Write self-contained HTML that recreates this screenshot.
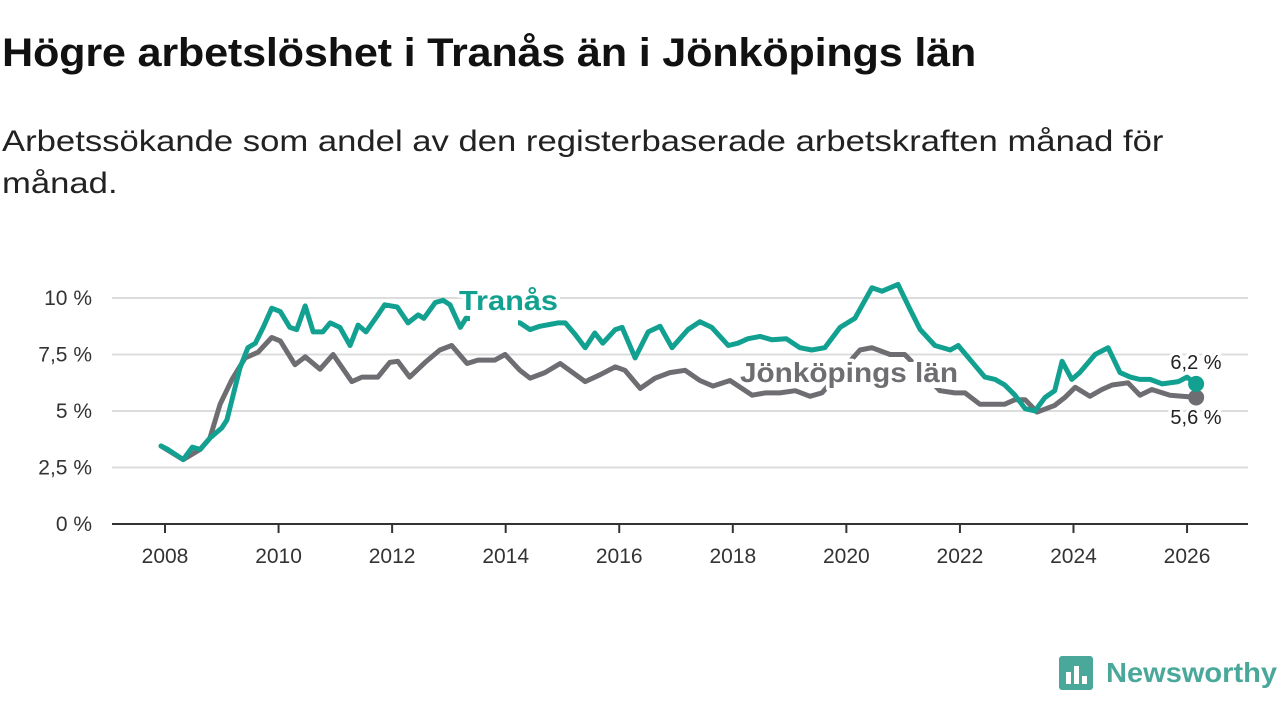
<!DOCTYPE html>
<html><head><meta charset="utf-8">
<style>
body{margin:0;background:#fff;font-family:"Liberation Sans",sans-serif;}
#wrap{position:relative;width:1280px;height:720px;overflow:hidden;}
h1{position:absolute;left:2px;top:31px;margin:0;font-size:40px;font-weight:bold;color:#111;letter-spacing:-0.2px;transform:scaleX(1.08);transform-origin:0 0;white-space:nowrap;}
p.sub{position:absolute;left:2px;top:121px;margin:0;font-size:30px;line-height:42px;color:#222;transform:scaleX(1.155);transform-origin:0 0;white-space:nowrap;}
svg{position:absolute;left:0;top:0;}
</style></head><body>
<div id="wrap">
<h1>Högre arbetslöshet i Tranås än i Jönköpings län</h1>
<p class="sub">Arbetssökande som andel av den registerbaserade arbetskraften månad för<br>månad.</p>
<svg id="chart" width="1280" height="720"></svg>
</div>
<script>
const yTicks=[0,2.5,5,7.5,10];
const yTickLabels=["0 %","2,5 %","5 %","7,5 %","10 %"];
const xTicks=[2008,2010,2012,2014,2016,2018,2020,2022,2024,2026];
const tranasX=[2007.93,2008.05,2008.32,2008.48,2008.62,2008.79,2009.00,2009.09,2009.18,2009.32,2009.46,2009.59,2009.73,2009.88,2010.03,2010.20,2010.32,2010.47,2010.61,2010.78,2010.91,2011.08,2011.26,2011.40,2011.54,2011.75,2011.87,2012.09,2012.28,2012.46,2012.56,2012.76,2012.90,2013.02,2013.20,2013.30,2014.25,2014.43,2014.60,2014.82,2014.92,2015.05,2015.22,2015.40,2015.57,2015.71,2015.93,2016.05,2016.28,2016.51,2016.72,2016.93,2017.21,2017.42,2017.63,2017.92,2018.09,2018.27,2018.48,2018.69,2018.94,2019.18,2019.39,2019.62,2019.89,2020.15,2020.45,2020.63,2020.91,2021.12,2021.30,2021.56,2021.83,2021.97,2022.27,2022.44,2022.62,2022.79,2022.97,2023.15,2023.32,2023.50,2023.67,2023.80,2023.97,2024.11,2024.38,2024.61,2024.82,2025.00,2025.17,2025.35,2025.56,2025.85,2026.00,2026.16];
const tranasY=[3.45,3.3,2.85,3.4,3.3,3.8,4.25,4.6,5.5,6.9,7.8,8.0,8.7,9.55,9.4,8.7,8.6,9.65,8.5,8.5,8.9,8.7,7.9,8.8,8.5,9.25,9.7,9.6,8.9,9.25,9.1,9.8,9.9,9.7,8.7,9.1,8.9,8.6,8.75,8.85,8.9,8.9,8.4,7.8,8.45,8.0,8.6,8.7,7.35,8.5,8.75,7.8,8.6,8.95,8.7,7.9,8.0,8.2,8.3,8.15,8.2,7.8,7.7,7.8,8.7,9.1,10.45,10.3,10.6,9.5,8.6,7.9,7.7,7.9,7.0,6.5,6.4,6.15,5.7,5.1,5.0,5.6,5.9,7.2,6.4,6.7,7.5,7.8,6.7,6.5,6.4,6.4,6.2,6.3,6.5,6.2];
const jkpX=[2007.93,2008.32,2008.62,2008.79,2008.97,2009.18,2009.41,2009.64,2009.88,2010.03,2010.29,2010.47,2010.73,2010.96,2011.29,2011.47,2011.75,2011.96,2012.10,2012.31,2012.58,2012.84,2013.05,2013.32,2013.51,2013.81,2013.99,2014.25,2014.43,2014.69,2014.96,2015.40,2015.66,2015.93,2016.10,2016.37,2016.63,2016.89,2017.16,2017.42,2017.65,2017.95,2018.34,2018.57,2018.83,2019.10,2019.36,2019.57,2020.24,2020.45,2020.77,2021.03,2021.65,2021.91,2022.09,2022.35,2022.79,2022.97,2023.15,2023.36,2023.67,2023.85,2024.03,2024.29,2024.50,2024.68,2024.96,2025.17,2025.38,2025.70,2026.16];
const jkpY=[3.45,2.85,3.3,3.8,5.3,6.4,7.35,7.6,8.25,8.1,7.05,7.4,6.85,7.5,6.3,6.5,6.5,7.15,7.2,6.5,7.15,7.7,7.9,7.1,7.25,7.25,7.5,6.8,6.45,6.7,7.1,6.3,6.6,6.95,6.8,6.0,6.45,6.7,6.8,6.35,6.1,6.35,5.7,5.8,5.8,5.9,5.65,5.8,7.7,7.8,7.5,7.5,5.9,5.8,5.8,5.3,5.3,5.5,5.5,4.95,5.25,5.6,6.05,5.65,5.95,6.15,6.25,5.7,5.95,5.7,5.6];
const svg=document.getElementById('chart');
const NS='http://www.w3.org/2000/svg';
const X=y=>165+(y-2008)*56.78;
const Y=v=>524-v*22.6;
function mk(tag,attrs,parent){const e=document.createElementNS(NS,tag);for(const k in attrs)e.setAttribute(k,attrs[k]);(parent||svg).appendChild(e);return e;}
yTicks.forEach((t,i)=>{
  if(t>0){const g=mk('line',{x1:112,x2:1248,y1:Y(t),y2:Y(t),stroke:'#dcdcdc','stroke-width':2});
  
  }
  const l=mk('text',{x:92,y:Y(t)+7,'text-anchor':'end','font-size':21,fill:'#333'});
  l.textContent=yTickLabels[i];
  
  
});
const ax=mk('line',{x1:112,x2:1248,y1:Y(0),y2:Y(0),stroke:'#333','stroke-width':2});


xTicks.forEach(t=>{
  const tk=mk('line',{x1:X(t),x2:X(t),y1:Y(0),y2:Y(0)+9,stroke:'#333','stroke-width':2});
  
  
  const l=mk('text',{x:X(t),y:563,'text-anchor':'middle','font-size':21,fill:'#333'});
  l.textContent=t;
  
  
});
function line(xs,ys,color,name){
  const d=xs.map((x,i)=>(i?'L':'M')+X(x).toFixed(1)+','+Y(ys[i]).toFixed(1)).join('');
  const p=mk('path',{d:d,fill:'none',stroke:color,'stroke-width':5,'stroke-linejoin':'round','stroke-linecap':'round'});
  
  
  const c=mk('circle',{cx:X(xs[xs.length-1]),cy:Y(ys[ys.length-1]),r:8,fill:color});
  
  
}
line(jkpX,jkpY,'#6e6d72','jonkoping-line');
line(tranasX,tranasY,'#12a190','tranas-line');
function lbl(txt,x,y,color,size,bold,anchor,name,len,box){
  if(box){const r=mk('rect',{x:box[0],y:box[1],width:box[2],height:box[3],fill:'#fff'});
  
  }
  const a={x:x,y:y,fill:color,'font-size':size,'font-weight':bold?'bold':'normal','text-anchor':anchor||'start',stroke:'#fff','stroke-width':7,'paint-order':'stroke','stroke-linejoin':'round'};
  if(len){a.textLength=len;a.lengthAdjust='spacingAndGlyphs';}
  const t=mk('text',a);
  t.textContent=txt;
  
  
}
lbl('Tranås',459,310,'#12a190',28,true,'start','tranas-label',99,[470,312,48,16]);
lbl('Jönköpings län',740,382,'#6e6d72',28,true,'start','jonkoping-label',218,[826,362,130,26]);
lbl('6,2 %',1196,369,'#222',20,false,'middle','tranas-end-value');
lbl('5,6 %',1196,424,'#222',20,false,'middle','jonkoping-end-value');
</script>
<svg width="1280" height="720" style="position:absolute;left:0;top:0;pointer-events:none">
<rect x="1059" y="656" width="34" height="34" rx="3" fill="#4aa89a"/>
<rect x="1066" y="672" width="5" height="12" fill="#fff"/><rect x="1074" y="666" width="5" height="18" fill="#fff"/><rect x="1082" y="676" width="5" height="8" fill="#fff"/>
<text x="1106" y="682" font-size="28" font-weight="bold" fill="#4aa89a" font-family="Liberation Sans, sans-serif" textLength="171" lengthAdjust="spacingAndGlyphs">Newsworthy</text>
</svg>
</body></html>
